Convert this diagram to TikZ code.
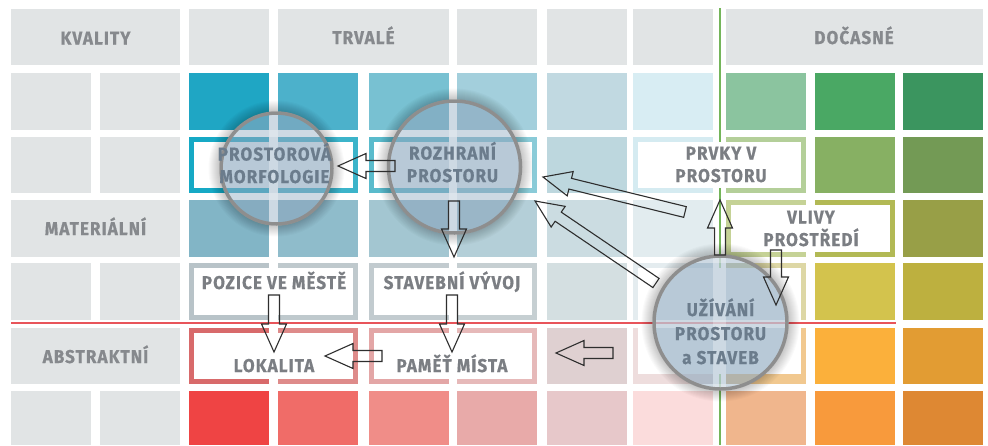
\documentclass[tikz,border=0pt]{standalone}
\usepackage{fontspec}
\setmainfont{Fira Sans}
\newfontfamily\lblfont{Fira Sans}[LetterSpace=6, FakeBold=0.6, FakeStretch=0.92]
\usetikzlibrary{calc}
\definecolor{txt}{HTML}{7B7E83}
\definecolor{txth}{HTML}{86898D}
\definecolor{txtc}{HTML}{6B7C8C}
\definecolor{gcell}{HTML}{E1E4E5}
\definecolor{greenln}{HTML}{74B55A}
\definecolor{redln}{HTML}{E8545A}
\definecolor{circfill}{HTML}{8AA6BD}
\definecolor{circedge}{HTML}{8E8E8E}
\definecolor{arrowc}{HTML}{2E2E2E}
\tikzset{
  lbl/.style={font=\lblfont\bfseries\fontsize{18.5}{22.5}\selectfont, text=txt, align=center, inner sep=0pt, anchor=base},
  lblc/.style={lbl, text=txtc},
  lblh/.style={lbl, text=txth},
  blockarr/.style={draw=arrowc, line width=1.1pt, line join=miter},
}
\newcommand\hexfill[5]{\edef\hexdo{\noexpand\definecolor{tmpc}{HTML}{#1}}\hexdo\fill[tmpc] (#2,#3) rectangle (#4,#5);}
\newcommand\cellrow[3]{\foreach \xa/\h in {#3}{\hexfill{\h}{\xa}{#1}{\xa+80}{#2}}}
\newcommand\blockarrow[2]{%
  \coordinate (ba-h) at ($(#2)!28pt!(#1)$);
  \draw[blockarr] ($(#1)!5.5pt!90:(#2)$) -- ($(ba-h)!5.5pt!90:(#2)$) -- ($(ba-h)!12.5pt!90:(#2)$)
     -- (#2) -- ($(ba-h)!12.5pt!-90:(#2)$) -- ($(ba-h)!5.5pt!-90:(#2)$) -- ($(#1)!5.5pt!-90:(#2)$) -- cycle;}
\newcommand\lens[3]{%
  \foreach \k in {1,...,11}{\fill[black, opacity=0.018, even odd rule] (#1,#2) circle[radius={(#3+1.5+\k)*1pt}] circle[radius={(#3+1.5)*1pt}];}
  \fill[circfill, opacity=0.6] (#1,#2) circle[radius=#3pt];
  \begin{scope}
    \clip (#1,#2) circle[radius=#3pt];
    \foreach \ga/\gb in {91/100,180/189,269/278,358/369,449/457,537/547,627/633,713/726,806/815,895/903}
      {\fill[white, opacity=0.3] (\ga,0) rectangle (\gb,445);}
    \foreach \ga/\gb in {65/73,130/137,193/200,257/263,320/328,384/391}
      {\fill[white, opacity=0.3] (0,\ga) rectangle (988,\gb);}
  \end{scope}
  \draw[circedge, line width=3.5pt] (#1,#2) circle[radius=#3pt];}
\begin{document}
\begin{tikzpicture}[x=1pt,y=-1pt]
\useasboundingbox (0,0) rectangle (988,445);
\fill[white] (0,0) rectangle (988,445);
% header cells
\foreach \xa/\xb in {11/180,189/269,278/449,457/537,547/627,633/713,726/983}
  {\fill[gcell] (\xa,9) rectangle (\xb,65);}
% left grey cells
\foreach \ya/\yb in {73/130,137/193,263/320,391/445}
  {\fill[gcell] (11,\ya) rectangle (91,\yb); \fill[gcell] (100,\ya) rectangle (180,\yb);}
\fill[gcell] (11,200) rectangle (180,257);
\fill[gcell] (11,328) rectangle (180,384);
% coloured cells
\cellrow{73}{130}{189/1FA6C4,278/4CB1CB,369/78C1D2,457/A3CFDC,547/C1D9E1,633/D8EDF3,726/8BC49F,815/4AA864,903/3B955F}
\cellrow{137}{193}{189/16A9C5,278/3CB4CA,369/5ABBCC,457/8ACBD8,547/BDD7DE,633/D5EBF1,726/B4CF99,815/87B063,903/739A55}
\cellrow{200}{257}{189/82B5C6,278/8FBCCB,369/A3C6D1,457/B4CFD8,547/CBDCE1,633/E2ECEF,726/C5D296,815/B2B955,903/989F47}
\cellrow{263}{320}{189/B8C3C8,278/BFC9CD,369/C2CBCF,457/C6CFD2,547/D4DFE1,633/E4ECEF,726/DDD7A5,815/D3C34D,903/BDB03F}
\cellrow{328}{384}{189/D86A6B,278/DE8B8A,369/E3A6A6,457/E6B9B9,547/DFD0D1,633/EEDDDD,726/F1C88F,815/FBB03B,903/E29C33}
\cellrow{391}{445}{189/EF4444,278/F06C68,369/F08D88,457/E8AAA9,547/E7C8CA,633/FBDCDC,726/F0B68D,815/F89A3C,903/DE8833}
% green time divider
\draw[greenln, line width=1.5pt] (720,8) -- (720,445);
% white boxes
\foreach \xa/\ya/\xb/\yb in {194/142/353/188, 374/142/532/188, 638/142/801/188, 731/205/890/252,
    194/268/353/315, 374/268/532/315, 638/268/801/374, 194/333/353/379, 374/333/532/379}
  {\fill[white] (\xa,\ya) rectangle (\xb,\yb);}
% red divider
\draw[redln, line width=1.3pt] (11,323) -- (896,323);
% lenses
\lens{276.5}{168.5}{55.5}
\lens{454.5}{167}{66}
\lens{720.5}{322.5}{66.5}
% header and row labels
\node[lblh] (kval) at (95.5,44.5) {KVALITY};
\node[lblh] (trv) at (363.5,44) {TRVALÉ};
\node[lblh] (doc) at (854,44) {DOČASNÉ};
\node[lblh] (mat) at (95.5,235) {MATERIÁLNÍ};
\node[lblh] (abs) at (95.5,363) {ABSTRAKTNÍ};
% box labels (base = baseline of last line)
\node[lblc] (morf) at (274.5,183) {PROSTOROVÁ\\MORFOLOGIE};
\node[lblc] (rozh) at (452.5,182) {ROZHRANÍ\\PROSTORU};
\node[lbl] (prvky) at (721,182) {PRVKY V\\PROSTORU};
\node[lbl] (vlivy) at (811,246) {VLIVY\\PROSTŘEDÍ};
\node[lbl] (pozice) at (274,289) {POZICE VE MĚSTĚ};
\node[lbl] (stav) at (452,289) {STAVEBNÍ VÝVOJ};
\node[lbl] (lok) at (274,372) {LOKALITA};
\node[lbl] (pamet) at (452,372) {PAMĚŤ MÍSTA};
\node[lblc, font=\lblfont\bfseries\fontsize{18.5}{24}\selectfont] (uziv) at (720.5,364) {UŽÍVÁNÍ\\PROSTORU\\a STAVEB};
% arrow end points
\coordinate (rozh-w) at (395,166);   \coordinate (morf-e) at (338,166);
\coordinate (rozh-s) at (454,201);   \coordinate (stav-n) at (454,257);
\coordinate (pozice-s) at (274,295); \coordinate (lok-n) at (274,352);
\coordinate (stav-s) at (452,295);   \coordinate (pamet-n) at (452,352);
\coordinate (pamet-w) at (382,356);  \coordinate (lok-e) at (325,356);
\coordinate (uziv-w) at (613,353);   \coordinate (mid-e) at (556,353);
\coordinate (uziv-n) at (720,255);   \coordinate (prvky-s) at (720,200);
\coordinate (vlivy-s) at (776,250);  \coordinate (uziv-ne) at (776,305);
\coordinate (uziv-nw1) at (685,212); \coordinate (rozh-e1) at (543,177);
\coordinate (uziv-nw2) at (656,283); \coordinate (rozh-e2) at (535,201);
% arrows
\blockarrow{rozh-w}{morf-e}
\blockarrow{rozh-s}{stav-n}
\blockarrow{pozice-s}{lok-n}
\blockarrow{stav-s}{pamet-n}
\blockarrow{pamet-w}{lok-e}
\blockarrow{uziv-w}{mid-e}
\blockarrow{uziv-n}{prvky-s}
\blockarrow{vlivy-s}{uziv-ne}
\blockarrow{uziv-nw1}{rozh-e1}
\blockarrow{uziv-nw2}{rozh-e2}
\end{tikzpicture}
\end{document}
